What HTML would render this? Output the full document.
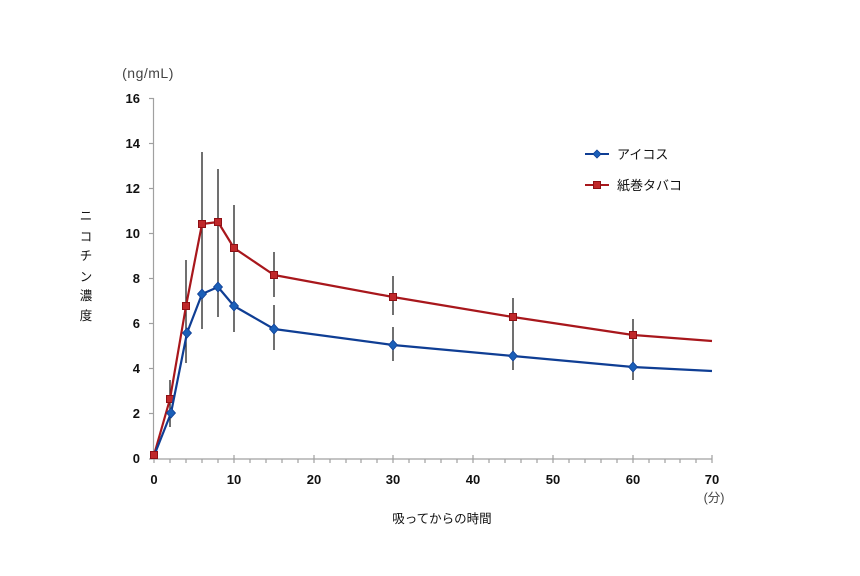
<!DOCTYPE html>
<html><head><meta charset="utf-8"><style>
html,body{margin:0;padding:0;background:#fff;}
svg{display:block;}
text{font-family:"Liberation Sans","Noto Sans CJK JP",sans-serif;}
</style></head><body>
<svg width="860" height="576" viewBox="0 0 860 576" xmlns="http://www.w3.org/2000/svg">
<rect width="860" height="576" fill="#fff"/>
<!-- axes -->
<g stroke="#a0a0a0" stroke-width="1.2" fill="none">
<line x1="153.5" y1="98" x2="153.5" y2="459"/>
<line x1="153.5" y1="459" x2="712.5" y2="459"/>
<!-- y ticks -->
<line x1="149" y1="98.5" x2="154" y2="98.5"/>
<line x1="149" y1="143.5" x2="154" y2="143.5"/>
<line x1="149" y1="188.5" x2="154" y2="188.5"/>
<line x1="149" y1="233.5" x2="154" y2="233.5"/>
<line x1="149" y1="278.5" x2="154" y2="278.5"/>
<line x1="149" y1="323.5" x2="154" y2="323.5"/>
<line x1="149" y1="368.5" x2="154" y2="368.5"/>
<line x1="149" y1="413.5" x2="154" y2="413.5"/>
<line x1="149" y1="459" x2="154" y2="459"/>
</g>
<g stroke="#a0a0a0" stroke-width="1.2">
<line x1="154" y1="455" x2="154" y2="463"/>
<line x1="170" y1="459" x2="170" y2="463"/><line x1="186" y1="459" x2="186" y2="463"/><line x1="202" y1="459" x2="202" y2="463"/><line x1="218" y1="459" x2="218" y2="463"/>
<line x1="234" y1="455" x2="234" y2="463"/>
<line x1="250" y1="459" x2="250" y2="463"/><line x1="266" y1="459" x2="266" y2="463"/><line x1="282" y1="459" x2="282" y2="463"/><line x1="298" y1="459" x2="298" y2="463"/>
<line x1="314" y1="455" x2="314" y2="463"/>
<line x1="330" y1="459" x2="330" y2="463"/><line x1="346" y1="459" x2="346" y2="463"/><line x1="361" y1="459" x2="361" y2="463"/><line x1="377" y1="459" x2="377" y2="463"/>
<line x1="393" y1="455" x2="393" y2="463"/>
<line x1="409" y1="459" x2="409" y2="463"/><line x1="425" y1="459" x2="425" y2="463"/><line x1="441" y1="459" x2="441" y2="463"/><line x1="457" y1="459" x2="457" y2="463"/>
<line x1="473" y1="455" x2="473" y2="463"/>
<line x1="489" y1="459" x2="489" y2="463"/><line x1="505" y1="459" x2="505" y2="463"/><line x1="521" y1="459" x2="521" y2="463"/><line x1="537" y1="459" x2="537" y2="463"/>
<line x1="553" y1="455" x2="553" y2="463"/>
<line x1="569" y1="459" x2="569" y2="463"/><line x1="585" y1="459" x2="585" y2="463"/><line x1="601" y1="459" x2="601" y2="463"/><line x1="617" y1="459" x2="617" y2="463"/>
<line x1="633" y1="455" x2="633" y2="463"/>
<line x1="649" y1="459" x2="649" y2="463"/><line x1="665" y1="459" x2="665" y2="463"/><line x1="680" y1="459" x2="680" y2="463"/><line x1="696" y1="459" x2="696" y2="463"/>
<line x1="712" y1="455" x2="712" y2="463"/>
</g>
<!-- y labels -->
<g font-size="13" font-weight="bold" fill="#111" text-anchor="end">
<text x="140" y="103">16</text>
<text x="140" y="148">14</text>
<text x="140" y="193">12</text>
<text x="140" y="238">10</text>
<text x="140" y="283">8</text>
<text x="140" y="328">6</text>
<text x="140" y="373">4</text>
<text x="140" y="418">2</text>
<text x="140" y="463">0</text>
</g>
<!-- x labels -->
<g font-size="13" font-weight="bold" fill="#111" text-anchor="middle">
<text x="154" y="484">0</text>
<text x="234" y="484">10</text>
<text x="314" y="484">20</text>
<text x="393" y="484">30</text>
<text x="473" y="484">40</text>
<text x="553" y="484">50</text>
<text x="633" y="484">60</text>
<text x="712" y="484">70</text>
</g>
<text x="148" y="78" font-size="14" fill="#444" text-anchor="middle" letter-spacing="0.5">(ng/mL)</text>
<text x="714" y="502" font-size="12.5" fill="#444" text-anchor="middle">(分)</text>
<text x="442" y="523" font-size="12.5" fill="#111" text-anchor="middle">吸ってからの時間</text>
<g font-size="12.5" fill="#111" text-anchor="middle">
<text x="86" y="220">ニ</text>
<text x="86" y="241">コ</text>
<text x="86" y="260">チ</text>
<text x="86" y="281">ン</text>
<text x="86" y="300">濃</text>
<text x="86" y="320">度</text>
</g>
<!-- error bars -->
<g stroke="#333" stroke-width="1.4">
<line x1="170" y1="380" x2="170" y2="427"/>
<line x1="186" y1="260" x2="186" y2="363"/>
<line x1="202" y1="152" x2="202" y2="329"/>
<line x1="218" y1="169" x2="218" y2="317"/>
<line x1="234" y1="205" x2="234" y2="332"/>
<line x1="274" y1="252" x2="274" y2="297"/>
<line x1="274" y1="305" x2="274" y2="350"/>
<line x1="393" y1="276" x2="393" y2="315"/>
<line x1="393" y1="327" x2="393" y2="361"/>
<line x1="513" y1="298" x2="513" y2="337"/>
<line x1="513" y1="337" x2="513" y2="370"/>
<line x1="633" y1="319" x2="633" y2="352"/>
<line x1="633" y1="352" x2="633" y2="380"/>
</g>
<!-- red series -->
<polyline fill="none" stroke="#A8171C" stroke-width="2.2" stroke-linejoin="round"
points="154,455 170,399 186,306 202,224 218,222 234,248 274,275 393,297 513,317 633,335 712,341"/>
<g fill="#C0282A" stroke="#8E1015" stroke-width="1">
<rect x="166.5" y="395.5" width="7" height="7"/>
<rect x="182.5" y="302.5" width="7" height="7"/>
<rect x="198.5" y="220.5" width="7" height="7"/>
<rect x="214.5" y="218.5" width="7" height="7"/>
<rect x="230.5" y="244.5" width="7" height="7"/>
<rect x="270.5" y="271.5" width="7" height="7"/>
<rect x="389.5" y="293.5" width="7" height="7"/>
<rect x="509.5" y="313.5" width="7" height="7"/>
<rect x="629.5" y="331.5" width="7" height="7"/>
</g>
<!-- blue series -->
<polyline fill="none" stroke="#0F3E94" stroke-width="2.2" stroke-linejoin="round"
points="154,456 171,413 187,333 202,294 218,287 234,306 274,329 393,345 513,356 633,367 712,371"/>
<g fill="#1B5FB8" stroke="#0F3E94" stroke-width="0.8">
<polygon points="171,408 175.5,413 171,418 166.5,413"/>
<polygon points="187,328 191.5,333 187,338 182.5,333"/>
<polygon points="202,289 206.5,294 202,299 197.5,294"/>
<polygon points="218,282 222.5,287 218,292 213.5,287"/>
<polygon points="234,301 238.5,306 234,311 229.5,306"/>
<polygon points="274,324 278.5,329 274,334 269.5,329"/>
<polygon points="393,340 397.5,345 393,350 388.5,345"/>
<polygon points="513,351 517.5,356 513,361 508.5,356"/>
<polygon points="633,362 637.5,367 633,372 628.5,367"/>
</g>
<rect x="150.5" y="451.5" width="7" height="7" fill="#C0282A" stroke="#8E1015" stroke-width="1"/>
<!-- legend -->
<line x1="585" y1="154" x2="609" y2="154" stroke="#0F3E94" stroke-width="2"/>
<polygon points="597,150 601,154 597,158 593,154" fill="#1B5FB8" stroke="#0F3E94" stroke-width="0.8"/>
<text x="617" y="159" font-size="13" fill="#111">アイコス</text>
<line x1="585" y1="185" x2="609" y2="185" stroke="#A8171C" stroke-width="2"/>
<rect x="593.5" y="181.5" width="7" height="7" fill="#C0282A" stroke="#8E1015" stroke-width="1"/>
<text x="617" y="190" font-size="13" fill="#111">紙巻タバコ</text>
</svg>
</body></html>
